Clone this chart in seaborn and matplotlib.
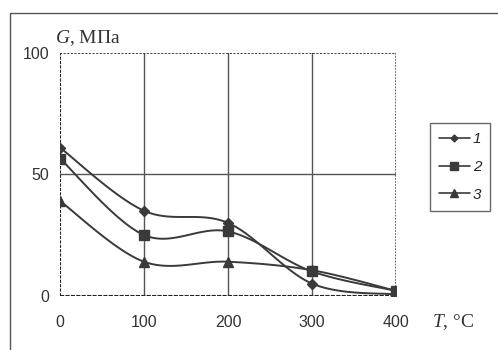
import numpy as np
import pandas as pd
import matplotlib
matplotlib.use("Agg")
import matplotlib.pyplot as plt
from matplotlib.lines import Line2D
from matplotlib.patches import Rectangle
import seaborn as sns

# ---- data ----
temps = [0, 100, 200, 300, 400]
g1 = [61, 35, 30, 5, 0.5]
g2 = [56.5, 25, 26.5, 10, 2]
g3 = [39, 14, 14, 10.5, 2]
series_names = ["1", "2", "3"]
x_ticks = [0, 100, 200, 300, 400]
y_ticks = [0, 50, 100]

sns.set_theme(style="white")
plt.rcParams["font.family"] = ["Liberation Sans", "DejaVu Sans"]
plt.rcParams["mathtext.fontset"] = "custom"
plt.rcParams["mathtext.it"] = "Liberation Serif:italic"
plt.rcParams["mathtext.rm"] = "Liberation Serif"

W, H = 498, 350
fig = plt.figure(figsize=(W / 100, H / 100), dpi=100)
fig.patch.set_facecolor("white")
# outer frame (only left/top visible)
fig.patches.append(Rectangle((10 / W, -0.1), 1.2, 1.1 - 13 / H,
                             transform=fig.transFigure, fill=False,
                             edgecolor="#555555", linewidth=1.0))

ax = fig.add_axes([60 / W, 1 - 295.7 / H, 336 / W, (295.7 - 53) / H])
ax.set_facecolor("white")


def smooth(xs, ys, n=30, t=1 / 6):
    # Excel-like smoothing: cubic Bezier segments with Catmull-Rom tangents
    xs = np.asarray(xs, float)
    ys = np.asarray(ys, float)
    P = np.column_stack([xs, ys])
    out = []
    for i in range(len(P) - 1):
        p0 = P[i - 1] if i > 0 else P[i]
        p1 = P[i]
        p2 = P[i + 1]
        p3 = P[i + 2] if i + 2 < len(P) else P[i + 1]
        c1 = p1 + (p2 - p0) * t
        c2 = p2 - (p3 - p1) * t
        s = np.linspace(0, 1, n)[:, None]
        seg = ((1 - s) ** 3) * p1 + 3 * ((1 - s) ** 2) * s * c1 + 3 * (1 - s) * s ** 2 * c2 + s ** 3 * p2
        out.append(seg if i == 0 else seg[1:])
    return np.vstack(out)


rows = []
pts = []
for name, ys in zip(series_names, [g1, g2, g3]):
    sm = smooth(temps, ys)
    for k, (xx, yy) in enumerate(sm):
        rows.append({"T": xx, "G": yy, "s": name, "o": k})
    for xx, yy in zip(temps, ys):
        pts.append({"T": xx, "G": yy, "s": name})
df = pd.DataFrame(rows)
dp = pd.DataFrame(pts)

col = "#3a3a3a"
markers = {"1": "D", "2": "s", "3": "^"}
msizes = {"1": 5, "2": 7, "3": 7}

# grid
for xv in [100, 200, 300]:
    ax.axvline(xv, color="#555555", lw=1.0, zorder=1)
ax.axhline(50, color="#555555", lw=1.0, zorder=1)
ax.axhline(100, color="#333333", lw=1.3, ls=(0, (1.2, 0.8)), zorder=1)
ax.axvline(400, color="#444444", lw=1.1, ls=(0, (1.2, 0.8)), zorder=1)
ax.axvline(0, color="#222222", lw=1.5, ls=(0, (1.5, 0.6)), zorder=1)
ax.axhline(0, color="#222222", lw=1.5, ls=(0, (2, 0.6)), zorder=1)

for name in series_names:
    sub = df[df.s == name]
    sns.lineplot(data=sub, x="T", y="G", sort=False, estimator=None,
                 color=col, lw=1.4, ax=ax, zorder=3)
    sp = dp[dp.s == name]
    ax.plot(sp["T"], sp["G"], ls="none", marker=markers[name],
            ms=msizes[name], color=col, zorder=4)

ax.set_xlim(0, 400)
ax.set_ylim(0, 100)
ax.set_xticks(x_ticks)
ax.set_yticks(y_ticks)
ax.set_xticklabels([str(v) for v in x_ticks], fontsize=11.5, color="#333333")
ax.set_yticklabels([str(v) for v in y_ticks], fontsize=11.5, color="#333333")
ax.tick_params(axis="x", length=4, pad=10, direction="out", color="#333333")
ax.tick_params(axis="y", length=3, pad=5, direction="out", color="#333333")
for sp_ in ax.spines.values():
    sp_.set_visible(False)
ax.set_xlabel("")
ax.set_ylabel("")

# axis labels
fig.text(55 / W, 1 - 38 / H, "$G$, МПa", fontsize=14, family="Liberation Serif",
         ha="left", va="center", color="#333333")
fig.text(432 / W, 1 - 322 / H, "$T$, °C", fontsize=14, family="Liberation Serif",
         ha="left", va="center", color="#333333")

handles = [Line2D([0], [0], color=col, lw=1.2, marker=markers[n],
                  ms=msizes[n] - 1.5) for n in series_names]
leg = fig.legend(handles, series_names, loc="upper left",
                 bbox_to_anchor=(430 / W, 1 - 123 / H), borderaxespad=0,
                 frameon=True, fancybox=False, handlelength=2.0,
                 handletextpad=0.2, labelspacing=0.9, borderpad=0.6,
                 prop={"style": "italic", "size": 11})
leg.get_frame().set_edgecolor("#444444")
leg.get_frame().set_linewidth(1.0)

fig.savefig("out.png", dpi=100, facecolor="white")
